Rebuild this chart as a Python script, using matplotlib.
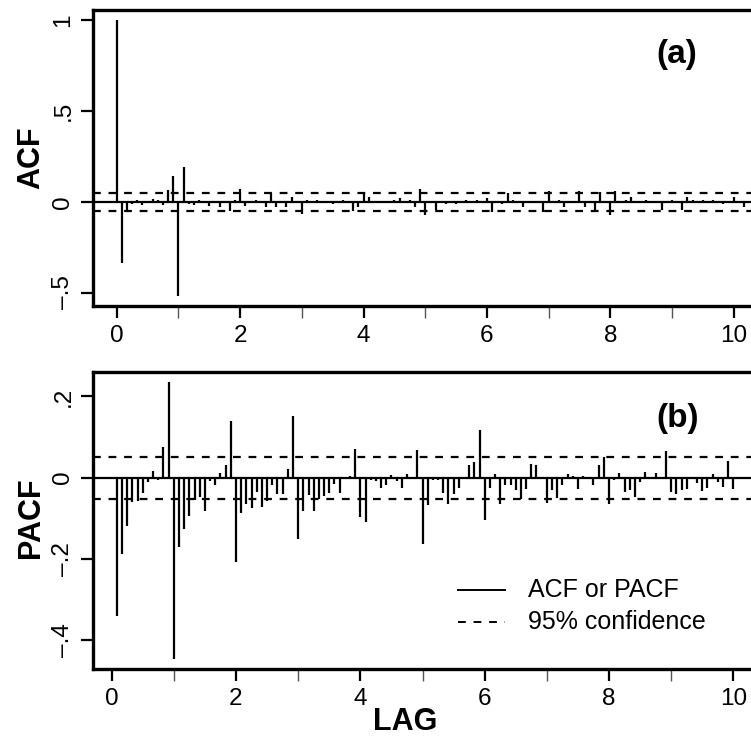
import numpy as np
import matplotlib
matplotlib.use("Agg")
import matplotlib.pyplot as plt
from matplotlib.lines import Line2D

plt.rcParams['font.family'] = ['Liberation Sans', 'DejaVu Sans']

# monthly series -> lags in years (k / 12)
freq = 12

# ACF, lags 0..124
acf_vals = [
    1.0, -0.34, -0.05, -0.015, 0.01, -0.018, 0.005, 0.013, 0.012, -0.018,
    0.064, 0.141, -0.52, 0.19, -0.012, -0.018, 0.008, 0.004, -0.025, 0.006,
    -0.03, 0.005, -0.05, 0.008, 0.068, -0.024, 0.004, 0.012, -0.006, -0.03,
    0.05, -0.028, 0.004, -0.028, 0.028, 0.006, -0.07, 0.008, -0.006, 0.01,
    -0.008, 0.006, -0.01, 0.004, 0.008, 0.005, -0.05, -0.028, 0.05, 0.028,
    0.004, -0.008, 0.006, 0.005, 0.01, 0.018, -0.004, 0.008, -0.028, 0.068,
    -0.073, 0.006, -0.045, 0.004, -0.01, 0.006, -0.012, 0.004, 0.01, -0.006,
    0.008, 0.004, 0.018, -0.055, 0.006, -0.01, 0.05, 0.008, -0.006, -0.028,
    0.004, 0.006, -0.008, -0.055, 0.06, -0.006, 0.01, -0.03, 0.005, -0.006,
    0.06, -0.028, 0.004, -0.055, 0.055, 0.004, -0.073, 0.06, -0.006, 0.008,
    0.028, -0.006, 0.005, 0.01, -0.008, 0.004, -0.045, 0.006, 0.01, -0.006,
    -0.045, 0.028, 0.008, -0.006, 0.01, -0.005, 0.012, 0.004, -0.01, 0.006,
    0.024, -0.006, -0.03, 0.005, 0.01,
]

# PACF, lags 1..120
pacf_vals = [
    -0.342, -0.188, -0.120, -0.060, -0.058, -0.038, -0.011, 0.016, -0.007, 0.076,
    0.236, -0.447, -0.170, -0.126, -0.095, -0.056, -0.048, -0.083, -0.008, -0.019,
    0.012, 0.030, 0.140, -0.207, -0.086, -0.066, -0.075, -0.035, -0.072, -0.058,
    -0.019, -0.041, -0.041, 0.021, 0.151, -0.151, -0.082, -0.044, -0.082, -0.052,
    -0.046, -0.038, -0.016, -0.038, -0.002, 0.005, 0.070, -0.097, -0.109, -0.005,
    -0.009, -0.026, -0.019, 0.007, -0.009, -0.025, 0.010, 0.002, 0.069, -0.163,
    -0.068, -0.005, -0.007, -0.038, -0.064, -0.041, -0.025, 0.002, 0.030, 0.039,
    0.117, -0.105, -0.025, 0.010, -0.064, -0.019, -0.019, -0.030, -0.052, -0.027,
    0.033, 0.030, 0.002, -0.063, -0.031, -0.050, -0.019, 0.008, 0.003, -0.027,
    0.003, -0.002, -0.019, 0.030, 0.051, -0.064, -0.007, 0.012, -0.035, -0.031,
    -0.048, -0.011, 0.014, -0.002, 0.012, -0.003, 0.066, -0.035, -0.040, -0.031,
    -0.027, -0.002, -0.013, -0.033, -0.025, 0.008, -0.011, -0.023, 0.041, -0.027,
]

ci_acf = 0.050
ci_pacf = 0.052

acf_yticks = [-0.5, 0, 0.5, 1]
acf_ylabels = ['\u2013.5', '0', '.5', '1']
pacf_yticks = [-0.4, -0.2, 0, 0.2]
pacf_ylabels = ['\u2013.4', '\u2013.2', '0', '.2']
xticks = [0, 2, 4, 6, 8, 10]
xminor = [1, 3, 5, 7, 9]

W, H = 751, 738
fig = plt.figure(figsize=(W / 100, H / 100), dpi=100)


def box(l, t, r, b):
    return [l / W, 1 - b / H, (r - l) / W, (b - t) / H]


ax1 = fig.add_axes(box(93, 10, 780, 306))
ax2 = fig.add_axes(box(93, 371.7, 780, 669))

dash = (0, (3.5, 3.5))


def panel(ax, lags, vals, ci, xlim, ylim, yticks, ylabels):
    ax.vlines(lags, 0, vals, color='black', lw=1.6)
    ax.axhline(0, color='black', lw=1.6)
    ax.axhline(ci, color='black', lw=1.6, ls=dash)
    ax.axhline(-ci, color='black', lw=1.6, ls=dash)
    ax.set_xlim(xlim)
    ax.set_ylim(ylim)
    ax.set_xticks(xticks, [str(t) for t in xticks])
    ax.set_xticks(xminor, minor=True)
    ax.set_yticks(yticks, ylabels, rotation=90, va='center')
    ax.tick_params(which='major', length=8.5, width=1.6, labelsize=17.5, pad=5)
    ax.tick_params(which='minor', length=8.5, width=1.0, color='#555555')
    for s in ax.spines.values():
        s.set_linewidth(2.4)


lag_acf = np.arange(len(acf_vals)) / freq
lag_pacf = np.arange(1, len(pacf_vals) + 1) / freq

panel(ax1, lag_acf, acf_vals, ci_acf, (-0.385, 10.75), (-0.574, 1.055),
      acf_yticks, acf_ylabels)
panel(ax2, lag_pacf, pacf_vals, ci_pacf, (-0.30, 10.75), (-0.4716, 0.261),
      pacf_yticks, pacf_ylabels)


def fpx(x, y):
    return x / W, 1 - y / H


fig.text(*fpx(677, 55), '(a)', fontsize=24, fontweight='bold',
         ha='center', va='center')
fig.text(*fpx(678, 418), '(b)', fontsize=24, fontweight='bold',
         ha='center', va='center')

fig.text(*fpx(31, 158), 'ACF', fontsize=22, fontweight='bold',
         rotation=90, ha='center', va='center')
fig.text(*fpx(31, 518), 'PACF', fontsize=22, fontweight='bold',
         rotation=90, ha='center', va='center')
fig.text(*fpx(405, 722), 'LAG', fontsize=22, fontweight='bold',
         ha='center', va='center')

# legend
for y, ls, lab in [(590, '-', 'ACF or PACF'), (622, (0, (4, 4)), '95% confidence')]:
    x0, y0 = fpx(458, y)
    x1, _ = fpx(505, y)
    fig.add_artist(Line2D([x0, x1], [y0, y0], color='black', lw=1.4, ls=ls))
    fig.text(*fpx(528, y), lab, fontsize=18, ha='left', va='center')

fig.savefig('out.png', dpi=100)
